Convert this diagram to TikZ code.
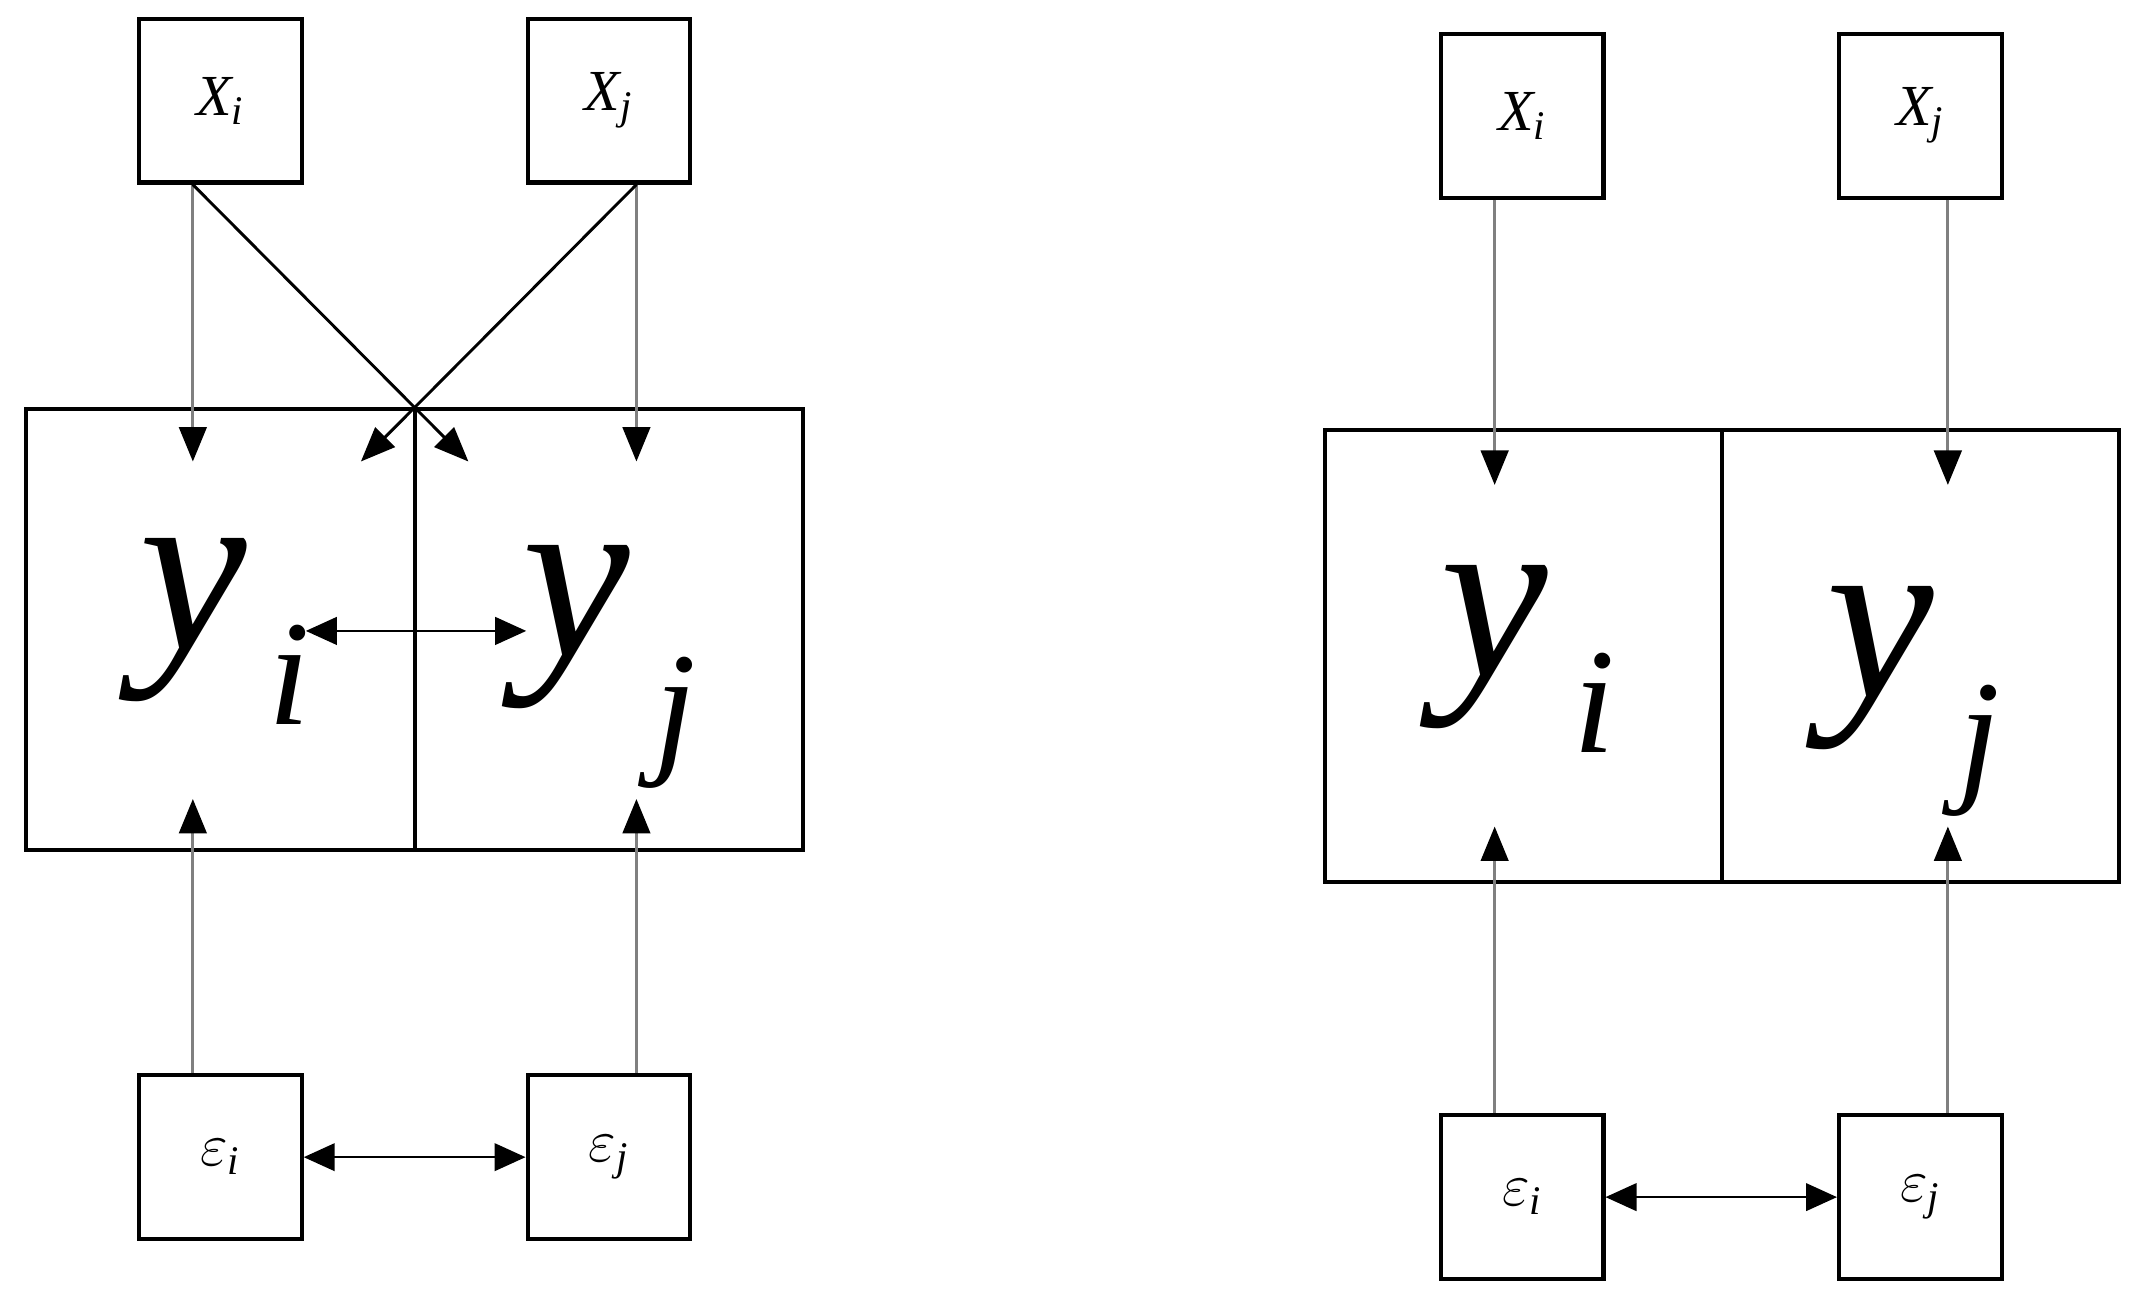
\documentclass[tikz,border=0pt]{standalone}
\usepackage{fontspec}
\setmainfont{Liberation Serif}
\usetikzlibrary{arrows.meta}
\usetikzlibrary{positioning}
\tikzstyle{small} = [rectangle, draw, line width=1.7pt, minimum width=2.36cm, minimum height=2.38cm, font=\fontsize{24}{24}\selectfont\itshape]
\tikzstyle{half} = [rectangle, draw, line width=1.7pt, inner sep=0pt, outer sep=0pt]
\tikzstyle{big} = [font=\fontsize{100}{100}\selectfont\itshape]
\tikzstyle{sub} = [font=\fontsize{62}{62}\selectfont\itshape]
\tikzstyle{feed} = [draw=gray, line width=1.2pt, -{Triangle[length=5mm,width=4mm,color=black]}]
\tikzstyle{cross} = [draw, line width=1.2pt, -{Triangle[length=5mm,width=4mm]}]
\tikzstyle{both} = [draw, line width=1pt, {Triangle[length=4.5mm,width=4mm]}-{Triangle[length=4.5mm,width=4mm]}]

\begin{document}
\begin{tikzpicture}[x=0.2mm,y=-0.2mm]
    \useasboundingbox (0,0) rectangle (1560,943);

    % left diagram
    \node[small] (xi) at (160,73) {X\textsubscript{i}};
    \node[small] (xj) at (442,73) {X\textsubscript{j}};
    \node[half, minimum width=5.64cm, minimum height=6.4cm] (bi) at (160,457) {};
    \node[half, minimum width=5.64cm, minimum height=6.4cm] (bj) at (442,457) {};
    \node[big] (yi) at (140,450) {y};
    \node[sub] (si) at (210,490) {i};
    \node[big] (yj) at (418,455) {y};
    \node[sub] (sj) at (490,525) {j};
    \node[small] (ei) at (160,840) {$\varepsilon$\textsubscript{i}};
    \node[small] (ej) at (442,840) {$\varepsilon$\textsubscript{j}};

    \coordinate (ti) at (140,335);
    \coordinate (tj) at (462,335);
    \coordinate (ci) at (340,335);
    \coordinate (cj) at (262,335);
    \coordinate (ui) at (140,580);
    \coordinate (uj) at (462,580);
    \coordinate (la) at (222,458);
    \coordinate (lb) at (382,458);

    \draw[feed] (xi.south -| ti) -- (ti);
    \draw[feed] (xj.south -| tj) -- (tj);
    \draw[cross] (xi.south -| ti) -- (ci);
    \draw[cross] (xj.south -| tj) -- (cj);
    \draw[feed] (ei.north -| ui) -- (ui);
    \draw[feed] (ej.north -| uj) -- (uj);
    \draw[both] (la) -- (lb);
    \draw[both] (ei) -- (ej);

    % right diagram
    \node[small] (rxi) at (1105,84) {X\textsubscript{i}};
    \node[small] (rxj) at (1394,84) {X\textsubscript{j}};
    \node[half, minimum width=5.76cm, minimum height=6.56cm] (rbi) at (1106,476) {};
    \node[half, minimum width=5.76cm, minimum height=6.56cm] (rbj) at (1394,476) {};
    \node[big] (ryi) at (1085,470) {y};
    \node[sub] (rsi) at (1157,510) {i};
    \node[big] (ryj) at (1365,485) {y};
    \node[sub] (rsj) at (1437,545) {j};
    \node[small] (rei) at (1105,869) {$\varepsilon$\textsubscript{i}};
    \node[small] (rej) at (1394,869) {$\varepsilon$\textsubscript{j}};

    \coordinate (rti) at (1085,352);
    \coordinate (rtj) at (1414,352);
    \coordinate (rui) at (1085,600);
    \coordinate (ruj) at (1414,600);

    \draw[feed] (rxi.south -| rti) -- (rti);
    \draw[feed] (rxj.south -| rtj) -- (rtj);
    \draw[feed] (rei.north -| rui) -- (rui);
    \draw[feed] (rej.north -| ruj) -- (ruj);
    \draw[both] (rei) -- (rej);
\end{tikzpicture}
\end{document}
